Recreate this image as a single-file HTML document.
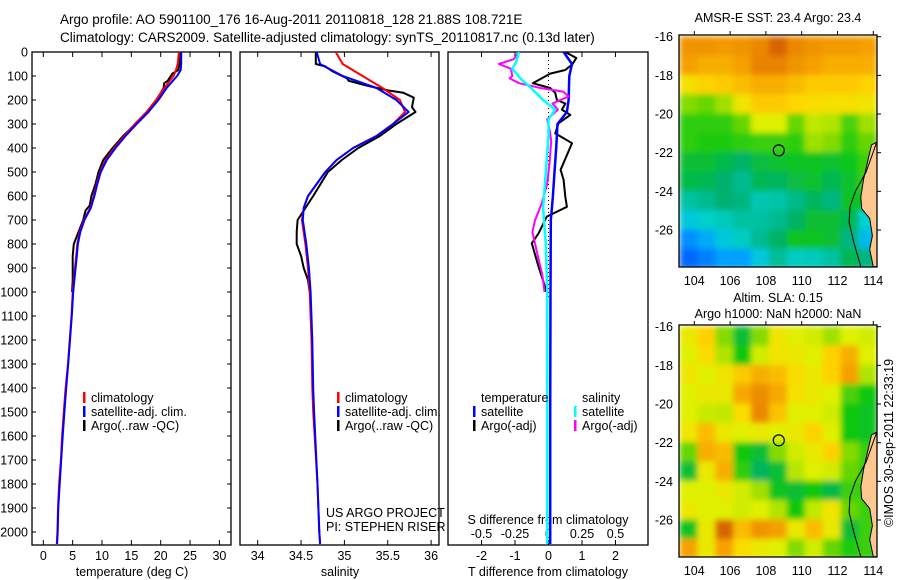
<!DOCTYPE html>
<html><head><meta charset="utf-8">
<style>
html,body{margin:0;padding:0;background:#fff;}
svg{display:block;font-family:"Liberation Sans",sans-serif;}
text{font-size:12.5px;fill:#000;}
</style></head>
<body>
<svg id="fig" width="900" height="580" viewBox="0 0 900 580" xmlns="http://www.w3.org/2000/svg">
<defs>
  <clipPath id="clipMap1"><rect x="679" y="35" width="198" height="232"/></clipPath>
  <clipPath id="clipMap2"><rect x="679" y="325" width="198" height="232"/></clipPath>
  <filter id="blur" x="0" y="0" width="1" height="1"><feGaussianBlur stdDeviation="3" edgeMode="duplicate"/></filter>
</defs>
<text x="60" y="24" style="font-size:13.5px">Argo profile: AO 5901100_176 16-Aug-2011 20110818_128 21.88S 108.721E</text>
<text x="60" y="42" style="font-size:13.5px">Climatology: CARS2009. Satellite-adjusted climatology: synTS_20110817.nc (0.13d later)</text>
<g id="g"></g>
</svg>
<script>
// ---------- profile data ----------
const tDepth = [0,25,50,75,100,150,200,250,300,350,400,450,500,550,600,650,700,750,800,850,900,1000,1100,1200,1300,1400,1500,1600,1700,1800,1900,2000,2050];
const tClim  = [23.1,23.0,22.9,22.6,22.2,20.6,19.2,17.6,15.6,13.8,12.1,10.6,9.7,9.1,8.6,8.0,6.9,6.2,5.8,5.6,5.4,5.0,4.8,4.5,4.2,3.8,3.5,3.2,3.0,2.7,2.5,2.4,2.3];
const tSat   = [23.5,23.5,23.5,23.4,22.8,21.0,19.6,17.9,15.9,14.0,12.3,10.8,9.8,9.2,8.7,8.1,7.0,6.3,5.9,5.7,5.5,5.1,4.85,4.55,4.25,3.9,3.6,3.3,3.05,2.8,2.55,2.45,2.35];
const argoDepth = [0,25,50,75,90,120,130,150,200,250,300,350,400,450,500,550,600,640,660,700,750,800,850,900,950,1000];
const tArgo = [23.3,23.3,23.2,23.0,22.0,21.2,20.6,20.5,19.3,17.6,15.7,13.6,11.8,10.2,9.4,8.9,8.2,7.9,7.2,6.8,6.0,5.2,5.0,5.0,5.0,4.9];

const sDepth = [0,50,100,150,200,250,300,350,400,450,500,550,600,650,700,800,900,1000,1200,1400,1500,1800,2000,2050];
const sClim  = [34.90,34.98,35.21,35.44,35.64,35.70,35.56,35.37,35.10,34.91,34.78,34.68,34.58,34.53,34.51,34.55,34.58,34.60,34.62,34.63,34.64,34.69,34.71,34.72];
const sSat   = [34.68,34.72,34.98,35.37,35.60,35.74,35.56,35.37,35.10,34.91,34.78,34.68,34.58,34.53,34.52,34.56,34.59,34.61,34.63,34.64,34.65,34.69,34.71,34.72];
const sArgoDepth = [0,50,60,80,110,120,140,160,170,190,230,250,300,350,400,450,500,600,650,700,750,800,850,900,950,1000];
const sArgo = [34.67,34.67,34.78,34.86,35.03,35.05,35.26,35.50,35.68,35.80,35.78,35.82,35.60,35.41,35.16,34.97,34.81,34.64,34.55,34.46,34.45,34.45,34.50,34.53,34.58,34.60];

// differences
const dTSatDepth = [0,50,100,200,250,300,400,500,600,650,700,1000,1500,2050];
const dTSat = [0.45,0.70,0.62,0.60,0.55,0.27,0.23,0.18,0.13,0.10,0.07,0.06,0.05,0.05];
const dTArgoDepth = [0,25,50,75,90,130,150,170,200,215,240,262,297,339,355,380,491,533,603,645,686,756,797,894,978,1000];
const dTArgo = [0.50,0.83,0.72,0.50,0.05,-0.47,0.05,0.20,0.25,0.50,0.40,0.65,0.30,0.20,0.40,0.70,0.36,0.45,0.50,0.55,-0.05,-0.30,-0.50,-0.30,-0.10,-0.08];
const dSSatDepth = [0,40,70,110,150,200,240,280,350,500,650,800,1000,1500,2050];
const dSSat = [-0.22,-0.24,-0.27,-0.21,-0.13,-0.04,0.05,0.0,0.0,-0.02,-0.04,-0.02,-0.01,-0.01,-0.01];
const dSArgoDepth = [0,30,50,70,100,110,130,150,165,185,215,240,280,330,370,450,550,630,700,750,850,920,950,1000];
const dSArgo = [-0.22,-0.26,-0.37,-0.28,-0.27,-0.29,-0.22,-0.06,0.11,0.15,0.03,0.07,-0.01,0.01,0.02,0.01,-0.01,-0.05,-0.10,-0.12,-0.08,-0.05,-0.04,-0.03];

// ---------- map data (11 lon cols 103.2..114.2, 12 lat rows -16..-28) ----------
const mapLon0 = 103.2;
const mapLat0 = -16;
const sstGrid = [
 [0.86,0.86,0.85,0.86,0.88,0.94,0.88,0.86,0.85,0.85,0.84],
 [0.84,0.82,0.82,0.84,0.89,0.89,0.86,0.84,0.82,0.82,0.82],
 [0.74,0.77,0.78,0.80,0.82,0.82,0.80,0.78,0.78,0.78,0.77],
 [0.60,0.58,0.62,0.73,0.78,0.78,0.76,0.75,0.74,0.74,0.73],
 [0.54,0.54,0.54,0.58,0.70,0.70,0.58,0.66,0.64,0.56,0.62],
 [0.54,0.53,0.53,0.54,0.55,0.55,0.54,0.62,0.60,0.54,0.58],
 [0.48,0.48,0.46,0.43,0.47,0.49,0.50,0.50,0.49,0.51,0.55],
 [0.46,0.45,0.42,0.38,0.45,0.44,0.47,0.49,0.45,0.49,0.55],
 [0.36,0.38,0.42,0.40,0.34,0.35,0.39,0.44,0.40,0.50,0.50],
 [0.28,0.31,0.33,0.36,0.36,0.38,0.43,0.48,0.48,0.45,0.30],
 [0.18,0.22,0.28,0.32,0.38,0.43,0.50,0.50,0.48,0.40,0.25],
 [0.13,0.16,0.20,0.20,0.28,0.37,0.32,0.33,0.36,0.45,0.40]
];
const slaGrid = [
 [0.72,0.77,0.60,0.48,0.60,0.73,0.70,0.68,0.62,0.70,0.68],
 [0.70,0.75,0.64,0.52,0.68,0.73,0.72,0.70,0.77,0.82,0.70],
 [0.73,0.70,0.73,0.78,0.82,0.80,0.75,0.72,0.77,0.84,0.64],
 [0.70,0.72,0.72,0.83,0.87,0.83,0.74,0.72,0.70,0.56,0.52],
 [0.70,0.67,0.66,0.75,0.88,0.79,0.70,0.70,0.68,0.52,0.50],
 [0.73,0.80,0.72,0.70,0.72,0.70,0.72,0.77,0.70,0.52,0.50],
 [0.58,0.82,0.80,0.52,0.48,0.60,0.68,0.72,0.77,0.60,0.55],
 [0.48,0.72,0.82,0.54,0.44,0.48,0.65,0.70,0.68,0.58,0.55],
 [0.70,0.70,0.72,0.68,0.62,0.50,0.48,0.52,0.46,0.55,0.55],
 [0.72,0.70,0.70,0.68,0.70,0.64,0.52,0.66,0.73,0.58,0.55],
 [0.50,0.72,0.94,0.80,0.86,0.84,0.72,0.80,0.72,0.48,0.55],
 [0.84,0.72,0.84,0.75,0.72,0.70,0.60,0.68,0.58,0.53,0.55]
];
const mapTitle1 = "AMSR-E SST: 23.4  Argo: 23.4";
const mapLatTicks = [-16,-18,-20,-22,-24,-26];
const mapLonTicks = [104,106,108,110,112,114];
const argoLon = 108.72, argoLat = -21.88;
const landLonLat = [[114.3,-21.4],[113.9,-21.6],[113.7,-22.4],[113.45,-23.4],[113.3,-24.3],[113.35,-24.9],[113.8,-25.4],[113.95,-26.3],[113.8,-27.0],[114.0,-27.9],[114.3,-27.9]];
const isobath = [[114.25,-21.3],[113.6,-23.0],[113.0,-24.0],[112.7,-24.8],[112.65,-25.6],[112.9,-26.6],[113.3,-27.9]];

// axis ticks
const depthTicks = [0,100,200,300,400,500,600,700,800,900,1000,1100,1200,1300,1400,1500,1600,1700,1800,1900,2000];
const tTicks = [0,5,10,15,20,25,30];
const sTicks = [34,34.5,35,35.5,36];
const dTTicks = [-2,-1,0,1,2];
const dSTicks = [-0.5,-0.25,0,0.25,0.5];
const dSTickLabels = ["-0.5","-0.25","0","0.25","0.5"];

// ---------- scales ----------
const yD = d => 52 + 0.24*d;
const xT = t => 43.3 + 5.87*t;
const xS = s => 257.7 + 86.7*(s-34);
const xdT = v => 548.5 + 33.5*v;
const xdS = v => 548.5 + 134*v;
const mx = lon => 694.3 + 17.9*(lon-104);
const my1 = lat => 36.7 + 19.33*(-16-lat);
const my2 = lat => 326.7 + 19.33*(-16-lat);

const NS = "http://www.w3.org/2000/svg";
const G = document.getElementById('g');
function el(tag, attrs, parent){
  const e = document.createElementNS(NS, tag);
  for (const k in attrs) e.setAttribute(k, attrs[k]);
  (parent||G).appendChild(e);
  return e;
}
function txt(x,y,s,anchor,parent,size){
  const t = el('text',{x:x,y:y,'text-anchor':anchor||'start'},parent);
  if (size) t.style.fontSize = size+'px';
  t.textContent = s;
  return t;
}
function line(depths, vals, xf, color, name, w){
  const pts = depths.map((d,i)=>xf(vals[i]).toFixed(1)+','+yD(d).toFixed(1)).join(' ');
  const p = el('polyline',{points:pts,fill:'none',stroke:color,'stroke-width':w||2,'stroke-linejoin':'round'});
  
  
}

// ---------- panels ----------
const panels = [[32,231],[240,439],[448,648]];
panels.forEach((p,i)=>{
  const r = el('rect',{x:p[0],y:52,width:p[1]-p[0],height:493,fill:'none',stroke:'#000','stroke-width':1.3});
  
  
});

depthTicks.forEach(d=>{
  const y = yD(d);
  el('line',{x1:32,y1:y,x2:36,y2:y,stroke:'#000'});
  el('line',{x1:227,y1:y,x2:231,y2:y,stroke:'#000'});
  const t = txt(28,y+4.5,String(d),'end');
  
  
});
tTicks.forEach(v=>{
  const x = xT(v);
  el('line',{x1:x,y1:52,x2:x,y2:57,stroke:'#000'});
  el('line',{x1:x,y1:540,x2:x,y2:545,stroke:'#000'});
  const t = txt(x,560,String(v),'middle');
  
  
});
sTicks.forEach(v=>{
  const x = xS(v);
  el('line',{x1:x,y1:52,x2:x,y2:57,stroke:'#000'});
  el('line',{x1:x,y1:540,x2:x,y2:545,stroke:'#000'});
  const t = txt(x,560,String(v),'middle');
  
  
});
dTTicks.forEach(v=>{
  const x = xdT(v);
  el('line',{x1:x,y1:52,x2:x,y2:57,stroke:'#000'});
  el('line',{x1:x,y1:540,x2:x,y2:545,stroke:'#000'});
  const t = txt(x,560,String(v),'middle');
  
  
});
dSTicks.forEach((v,i)=>{
  const t = txt(xdS(v),538,dSTickLabels[i],'middle');
  
  
});
[[132,'temperature (deg C)','x-axis-title-temperature'],[340,'salinity','x-axis-title-salinity'],[548,'T difference from climatology','x-axis-title-tdiff']].forEach(a=>{
  const t = txt(a[0],576,a[1],'middle');
  
  
});
{ const t = txt(548,524,'S difference from climatology','middle');
  
   }

{ const z = el('line',{x1:548.5,y1:52,x2:548.5,y2:300,stroke:'#000','stroke-dasharray':'1,3'});
  
   }

line(argoDepth, tArgo, xT, '#000', 'temperature-argo-line');
line(tDepth, tClim, xT, '#f00', 'temperature-climatology-line');
line(tDepth, tSat, xT, '#00f', 'temperature-satellite-line');
line(sArgoDepth, sArgo, xS, '#000', 'salinity-argo-line');
line(sDepth, sClim, xS, '#f00', 'salinity-climatology-line');
line(sDepth, sSat, xS, '#00f', 'salinity-satellite-line');
line(dTArgoDepth, dTArgo, xdT, '#000', 'tdiff-argo-line');
line(dTSatDepth, dTSat, xdT, '#00f', 'tdiff-satellite-line', 2.5);
line(dSArgoDepth, dSArgo, xdS, '#f0f', 'sdiff-argo-line');
line(dSSatDepth, dSSat, xdS, '#0ff', 'sdiff-satellite-line', 2.5);

function legend(x,y,color,label,name){
  const g = el('g',{});
  
  
  el('rect',{x:x,y:y-10,width:2.5,height:11,fill:color},g);
  txt(x+8,y,label,'start',g);
}
legend(83,402,'#f00','climatology','legend-entry-climatology');
legend(83,416,'#00f','satellite-adj. clim.','legend-entry-satellite-adj');
legend(83,430,'#000','Argo(..raw -QC)','legend-entry-argo');
legend(337,402,'#f00','climatology','legend-entry-climatology-2');
legend(337,416,'#00f','satellite-adj. clim.','legend-entry-satellite-adj-2');
legend(337,430,'#000','Argo(..raw -QC)','legend-entry-argo-2');
{ const t = txt(481,402,'temperature');   }
{ const t = txt(582,402,'salinity');   }
legend(473,416,'#00f','satellite','legend-entry-t-satellite');
legend(473,430,'#000','Argo(-adj)','legend-entry-t-argo');
legend(574,416,'#0ff','satellite','legend-entry-s-satellite');
legend(574,430,'#f0f','Argo(-adj)','legend-entry-s-argo');
{ const t = txt(326,517,'US ARGO PROJECT');   }
{ const t = txt(326,531,'PI: STEPHEN RISER');   }

// ---------- maps ----------
const stops = [[0.0,[0,40,255]],[0.1,[0,80,255]],[0.2,[0,160,255]],[0.3,[0,210,210]],[0.42,[0,176,112]],[0.52,[16,200,16]],[0.62,[160,224,0]],[0.70,[224,240,0]],[0.76,[255,216,0]],[0.84,[245,160,0]],[0.92,[224,112,0]],[1.0,[192,64,0]]];
function cmap(v){
  for (let i=1;i<stops.length;i++){
    if (v<=stops[i][0]){
      const a=stops[i-1],b=stops[i],f=(v-a[0])/(b[0]-a[0]);
      const c=a[1].map((q,k)=>Math.round(q+(b[1][k]-q)*f));
      return 'rgb('+c.join(',')+')';
    }
  }
  return 'rgb(192,64,0)';
}
function drawMap(grid, myf, clip, top, name){
  const mg = el('g',{'clip-path':'url(#'+clip+')'});
  
  
  const cells = el('g',{filter:'url(#blur)'},mg);
  grid.forEach((row,r)=>row.forEach((v,c)=>{
    const x0 = mx(mapLon0+c), x1 = mx(mapLon0+c+1);
    const y0 = myf(mapLat0-r), y1 = myf(mapLat0-r-1);
    const cell = el('rect',{x:x0-0.5,y:y0-0.5,width:x1-x0+1,height:y1-y0+1,fill:cmap(v)},cells);
    
    
  }));
  const land = el('polygon',{points:landLonLat.map(p=>mx(p[0]).toFixed(1)+','+myf(p[1]).toFixed(1)).join(' '),fill:'#fcc890',stroke:'#000','stroke-width':1},mg);
  
  
  const iso = el('polyline',{points:isobath.map(p=>mx(p[0]).toFixed(1)+','+myf(p[1]).toFixed(1)).join(' '),fill:'none',stroke:'#000','stroke-width':1},mg);
  
  
  const circ = el('circle',{cx:mx(argoLon),cy:myf(argoLat),r:5.5,fill:'none',stroke:'#000','stroke-width':1.2},mg);
  
  
  const fr = el('rect',{x:679,y:top,width:198,height:232,fill:'none',stroke:'#000','stroke-width':1.3});
  
  
  mapLatTicks.forEach(l=>{
    const y = myf(l);
    el('line',{x1:877,y1:y,x2:881,y2:y,stroke:'#000'});
    const t = txt(673,y+4.5,String(l),'end');
    
    
  });
  mapLonTicks.forEach(l=>{
    const x = mx(l);
    el('line',{x1:x,y1:top-4,x2:x,y2:top,stroke:'#000'});
    const t = txt(x,top+250,String(l),'middle');
    
    
  });
}
drawMap(sstGrid, my1, 'clipMap1', 35, 'sst-map');
drawMap(slaGrid, my2, 'clipMap2', 325, 'sla-map');
{ const t = txt(778,22,mapTitle1,'middle');   }
{ const t = txt(778,302,'Altim. SLA: 0.15','middle');   }
{ const t = txt(778,318,'Argo h1000: NaN h2000: NaN','middle');   }
{ const t = txt(0,0,'©IMOS 30-Sep-2011 22:33:19','middle');
  t.setAttribute('transform','translate(893,443) rotate(-90)');
    }
</script>
</body></html>
